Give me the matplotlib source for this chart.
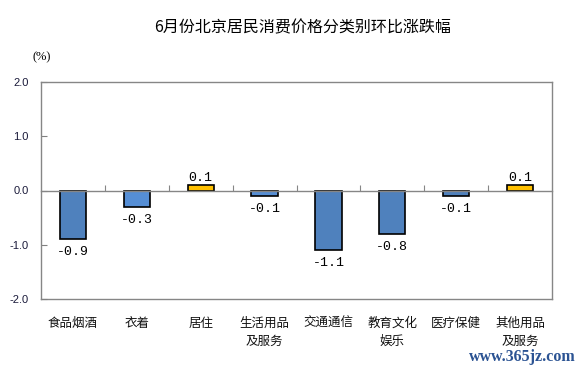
import matplotlib
matplotlib.use("Agg")
import matplotlib.pyplot as plt
from matplotlib.ticker import FormatStrFormatter

plt.rcParams['font.family'] = ['Noto Sans CJK SC', 'DejaVu Sans']

categories = ["食品烟酒", "衣着", "居住", "生活用品\n及服务", "交通通信", "教育文化\n娱乐", "医疗保健", "其他用品\n及服务"]
values = [-0.9, -0.3, 0.1, -0.1, -1.1, -0.8, -0.1, 0.1]
colors = ["#4F81BD", "#558ED5", "#FFC000", "#558ED5", "#4F81BD", "#4F81BD", "#4F81BD", "#FFC000"]
yticks = [-2.0, -1.0, 0.0, 1.0, 2.0]
title = "6月份北京居民消费价格分类别环比涨跌幅"

fig = plt.figure(figsize=(5.88, 3.66), dpi=100)
ax = fig.add_axes([41/588, 1 - 299/366, (552-41)/588, (299-82)/366])

x = list(range(len(categories)))
bars = ax.bar(x, values, width=0.41, color=colors, edgecolor="black", linewidth=1.2, zorder=3)

ax.set_xlim(-0.5, len(categories) - 0.5)
ax.set_ylim(-2.0, 2.0)
ax.set_yticks(yticks)
ax.yaxis.set_major_formatter(FormatStrFormatter("%.1f"))
ax.tick_params(axis="y", direction="in", length=4, color="#808080", pad=9,
               labelsize=8, labelcolor="#1a1a3a")
for lab in ax.get_yticklabels():
    lab.set_family(["Liberation Sans", "DejaVu Sans"])

gray = "#868686"
for s in ["left", "right", "top"]:
    ax.spines[s].set_color(gray)
    ax.spines[s].set_linewidth(1.0)

# bottom spine moved to zero, with ticks between categories
ax.spines["bottom"].set_position(("data", 0))
ax.spines["bottom"].set_color(gray)
ax.spines["bottom"].set_linewidth(1.0)
ax.spines["bottom"].set_zorder(4)
ax.set_xticks([i + 0.5 for i in x[:-1]])
ax.tick_params(axis="x", direction="in", length=4, color=gray, labelbottom=False)

# frame bottom with category labels
sec = ax.secondary_xaxis(0.0)
sec.set_xticks(x)
sec.set_xticklabels(categories, fontsize=9, linespacing=1.45, va="top", color="#111111")
sec.tick_params(length=0, pad=13)
sec.spines["bottom"].set_color(gray)
sec.spines["bottom"].set_linewidth(1.0)

for b, v in zip(bars, values):
    xc = b.get_x() + b.get_width() / 2
    if v < 0:
        ax.annotate(f"{v:.1f}", (xc, v), xytext=(0, -5), textcoords="offset points",
                    ha="center", va="top", fontsize=9.5, family="Liberation Mono")
    else:
        ax.annotate(f"{v:.1f}", (xc, v), xytext=(0, 1), textcoords="offset points",
                    ha="center", va="bottom", fontsize=9.5, family="Liberation Mono")

fig.text(303/588, 1 - 28/366, title, ha="center", va="center", fontsize=11.5)
fig.text(42/588, 1 - 57/366, "(%)", ha="center", va="center", fontsize=9,
         family=["Liberation Serif", "DejaVu Serif"])
fig.text(522/588, 1 - 357/366, "www.365jz.com", ha="center", va="center", fontsize=11.5,
         fontweight="bold", color="#2B5393", family=["Liberation Serif", "DejaVu Serif"])

fig.savefig("out.png", dpi=100)
